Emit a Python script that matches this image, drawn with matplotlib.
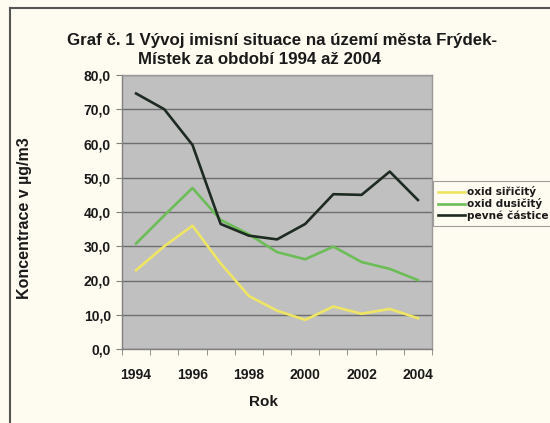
import matplotlib
matplotlib.use("Agg")
import matplotlib.pyplot as plt
from matplotlib.ticker import FuncFormatter
from matplotlib.lines import Line2D

years = [1994, 1995, 1996, 1997, 1998, 1999, 2000, 2001, 2002, 2003, 2004]
oxid_siricity = [23.0, 30.0, 36.0, 25.0, 15.5, 11.2, 8.5, 12.4, 10.3, 11.7, 9.0]
oxid_dusicity = [30.8, 39.0, 47.0, 37.7, 33.5, 28.3, 26.2, 29.9, 25.4, 23.4, 20.1]
pevne_castice = [74.6, 70.0, 59.6, 36.5, 33.1, 32.0, 36.5, 45.2, 45.0, 51.8, 43.5]
series_names = ["oxid siřičitý", "oxid dusičitý", "pevné částice"]
title_lines = ["Graf č. 1 Vývoj imisní situace na území města Frýdek-",
               "Místek za období 1994 až 2004"]

W, H = 550, 423
fig = plt.figure(figsize=(5.5, 4.23), dpi=100, facecolor="#FEFBF0")
font = "Liberation Sans"

ax = fig.add_axes([122 / W, 1 - 349 / H, 310 / W, 274 / H])
ax.set_facecolor("#C0C0C0")
x = list(range(len(years)))
colors = ["#EFE565", "#6CBD57", "#1E2B22"]
for vals, c, n in zip([oxid_siricity, oxid_dusicity, pevne_castice], colors, series_names):
    ax.plot(x, vals, color=c, lw=1.9, label=n, solid_joinstyle="round")

ax.set_xlim(-0.5, len(years) - 0.5)
ax.set_ylim(0, 80)
ax.set_yticks(range(0, 81, 10))
ax.yaxis.set_major_formatter(FuncFormatter(lambda v, p: f"{v:.1f}".replace(".", ",")))
ax.grid(axis="y", color="#6E6E6E", lw=1.0)
ax.set_axisbelow(True)

ax.set_xticks(x[::2])
ax.set_xticklabels([str(y) for y in years[::2]])
ax.set_xticks([i - 0.5 for i in range(len(years) + 1)], minor=True)
ax.tick_params(axis="x", which="major", length=0, pad=14)
ax.tick_params(axis="x", which="minor", length=4, color="#808080", direction="out")
ax.tick_params(axis="y", length=4, color="#808080", pad=4)
for lab in ax.get_xticklabels() + ax.get_yticklabels():
    lab.set_fontfamily(font)
    lab.set_fontweight("bold")
    lab.set_fontsize(10)
    lab.set_color("#1a1a1a")
for s in ax.spines.values():
    s.set_color("#9A9A9A")
    s.set_linewidth(1.0)
ax.spines["left"].set_color("#808080")
ax.spines["bottom"].set_color("#808080")

fig.text(282 / W, 1 - 40 / H, title_lines[0], ha="center", va="center",
         fontfamily=font, fontweight="bold", fontsize=12.2, color="#1a1a1a")
fig.text(259 / W, 1 - 59 / H, title_lines[1], ha="center", va="center",
         fontfamily=font, fontweight="bold", fontsize=12.2, color="#1a1a1a")
fig.text(25 / W, 1 - 218 / H, "Koncentrace v µg/m3", rotation=90, ha="center", va="center",
         fontfamily=font, fontweight="bold", fontsize=11.5, color="#1a1a1a")
fig.text(263 / W, 1 - 402 / H, "Rok", ha="center", va="center",
         fontfamily=font, fontweight="bold", fontsize=11, color="#1a1a1a")

leg = fig.legend(loc="upper left", bbox_to_anchor=(433 / W, 1 - 181 / H),
                 prop={"family": "DejaVu Sans", "weight": "bold", "size": 7.6},
                 frameon=True, fancybox=False, handlelength=2.5, handletextpad=0.25,
                 borderpad=0.5, labelspacing=0.1, borderaxespad=0)
leg.get_frame().set_edgecolor("#888888")
leg.get_frame().set_facecolor("#FEFBF0")
leg.get_frame().set_linewidth(0.8)
for t in leg.get_texts():
    t.set_color("#1a1a1a")

# outer frame (left and top visible)
fig.add_artist(Line2D([9.5 / W, 9.5 / W], [0, 1 - 8 / H], transform=fig.transFigure,
                      color="#555555", lw=1.5))
fig.add_artist(Line2D([9.5 / W, 1], [1 - 8 / H, 1 - 8 / H], transform=fig.transFigure,
                      color="#555555", lw=1.5))

fig.savefig("out.png", dpi=100, facecolor=fig.get_facecolor())
